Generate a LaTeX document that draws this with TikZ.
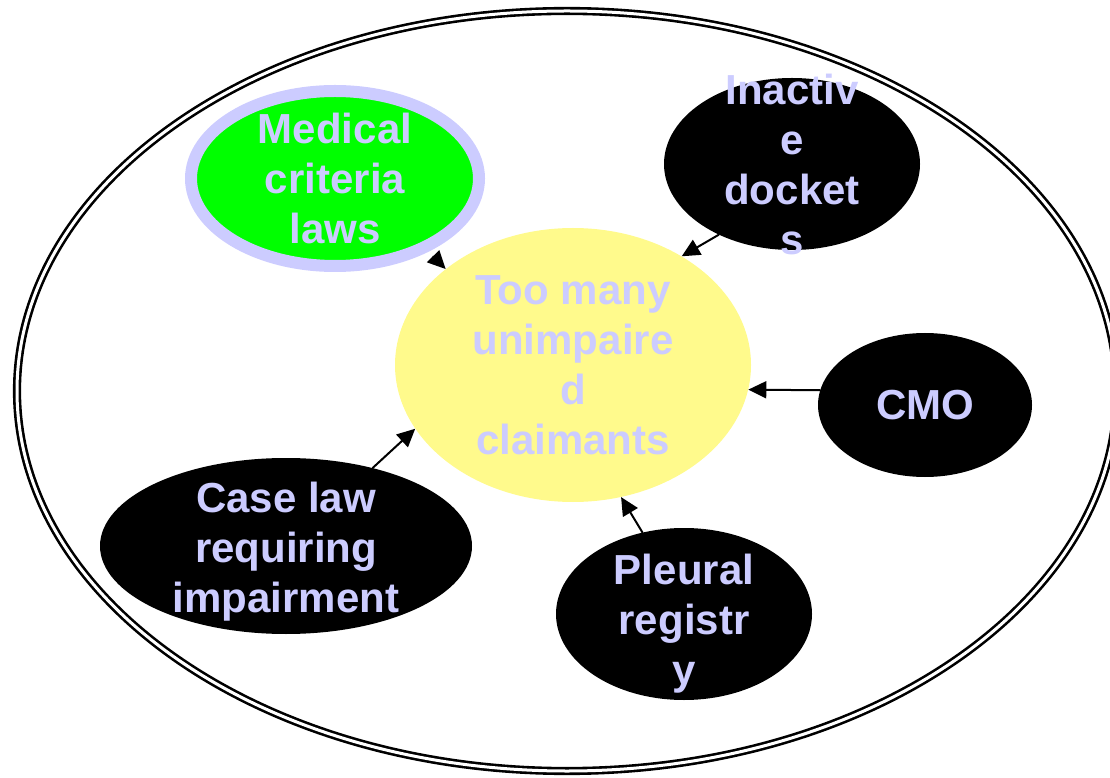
\documentclass[tikz,border=0pt]{standalone}
\usepackage{fontspec}
\setmainfont{Liberation Sans}
\usetikzlibrary{shapes.geometric,arrows.meta}
\definecolor{lav}{RGB}{204,204,255}
\definecolor{pale}{RGB}{255,250,140}
\definecolor{lime}{RGB}{0,255,0}
\begin{document}
\begin{tikzpicture}[x=1pt,y=1pt,line cap=round,line join=round,
		blob/.style={ellipse,inner sep=0pt},
		dark/.style={blob,fill=black},
		txt/.style={font=\fontsize{42}{50}\selectfont\bfseries,text=lav,align=center,inner sep=0pt},
		arr/.style={-{Triangle[length=18pt,width=17pt]},line width=2pt}]
	\useasboundingbox (0,0) rectangle (1110,777);
	\clip (0,0) rectangle (1110,777);
	\draw[line width=2.6pt,double=white,double distance=3pt] (567,386) ellipse (550pt and 380pt);
	% bubbles
	\node[blob,fill=pale,minimum width=356pt,minimum height=274pt] (claim) at (573,412) {};
	\node[blob,fill=lime,draw=lav,line width=12pt,minimum width=288pt,minimum height=175pt] (med) at (335,598.5) {};
	\node[dark,minimum width=256pt,minimum height=172pt] (dock) at (792,613) {};
	\node[dark,minimum width=214pt,minimum height=144pt] (cmo) at (925,372) {};
	\node[dark,minimum width=372pt,minimum height=176pt] (case) at (286,231) {};
	\node[dark,minimum width=256pt,minimum height=172pt] (pleu) at (684,163) {};
	% labels
	\node[txt] (medtxt) at (med) {Medical\\criteria\\laws};
	\node[txt] (claimtxt) at (claim) {Too many\\unimpaire\\d\\claimants};
	\node[txt] (docktxt) at (dock) {Inactiv\\e\\docket\\s};
	\node[txt] (cmotxt) at (cmo) {CMO};
	\node[txt,yshift=-6pt] (casetxt) at (case) {Case law\\requiring\\impairment};
	\node[txt,yshift=-10pt] (pleutxt) at (pleu) {Pleural\\registr\\y};
	% arrows
	\draw[arr,shorten <=7pt] (med.-38) -- (claim.143);
	\draw[arr] (dock.-136) -- (claim.45);
	\draw[arr] (cmo.172) -- (claim.-8);
	\draw[arr] (case.42) -- (claim.-158);
	\draw[arr] (pleu.117) -- (claim.-70);
\end{tikzpicture}
\end{document}
